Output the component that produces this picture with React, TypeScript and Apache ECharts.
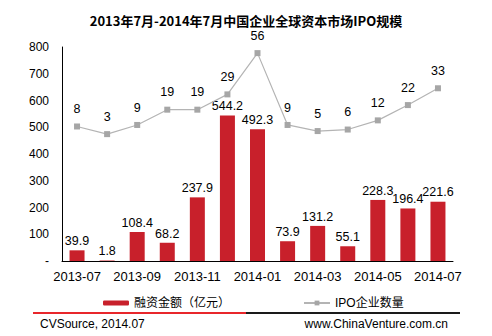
import React, { useEffect, useRef } from "react";
import * as echarts from "echarts";

const categories = ["2013-07","2013-08","2013-09","2013-10","2013-11","2013-12","2014-01","2014-02","2014-03","2014-04","2014-05","2014-06","2014-07"];
const amounts = [39.9, 1.8, 108.4, 68.2, 237.9, 544.2, 492.3, 73.9, 131.2, 55.1, 228.3, 196.4, 221.6];
const ipoCounts = [8, 3, 9, 19, 19, 29, 56, 9, 5, 6, 12, 22, 33];
const yTicks = [0, 100, 200, 300, 400, 500, 600, 700, 800];

const FONT = "'Liberation Sans', Arial, 'Noto Sans CJK SC', sans-serif";

export default function App() {
  const ref = useRef<HTMLDivElement>(null);
  useEffect(() => {
    const chart = echarts.init(ref.current!, null, { renderer: "svg" });
    chart.setOption({
      animation: false,
      backgroundColor: "#ffffff",
      textStyle: { fontFamily: FONT },
      title: {
        text: "2013年7月-2014年7月中国企业全球资本市场IPO规模",
        left: "center",
        top: 9,
        textStyle: { fontSize: 13, fontWeight: "bold", color: "#000", fontFamily: "'Noto Sans CJK SC', sans-serif" },
      },
      legend: [
        {
          data: ["融资金额（亿元）"],
          left: 98,
          top: 292,
          itemWidth: 26,
          itemHeight: 5,
          itemGap: 4,
          textStyle: { fontSize: 12, color: "#000", fontFamily: FONT },
        },
        {
          data: ["IPO企业数量"],
          left: 298,
          top: 292,
          itemWidth: 26,
          itemHeight: 6,
          textStyle: { fontSize: 12, color: "#000", fontFamily: FONT },
        },
      ],
      grid: { left: 62, right: 39, top: 47, bottom: 75, containLabel: false },
      xAxis: {
        type: "category",
        data: categories,
        axisLine: { lineStyle: { color: "#000", width: 1 } },
        axisTick: { show: false },
        axisLabel: { interval: 1, color: "#000", fontSize: 13, margin: 9, fontFamily: FONT },
      },
      yAxis: [
        {
          type: "value",
          min: 0,
          max: 800,
          interval: 100,
          axisLine: { show: true, lineStyle: { color: "#000" } },
          axisTick: { show: false },
          splitLine: { show: false },
          axisLabel: {
            color: "#000",
            fontSize: 12,
            margin: 13,
            fontFamily: FONT,
            formatter: (v: number) => (yTicks.indexOf(v) >= 0 ? (v === 0 ? "-" : String(v)) : ""),
          },
        },
        {
          type: "value",
          min: -80,
          max: 60,
          show: false,
          splitLine: { show: false },
        },
      ],
      series: [
        {
          name: "融资金额（亿元）",
          type: "bar",
          data: amounts,
          barWidth: 15,
          itemStyle: { color: "#c8202b" },
          label: { show: true, position: "top", distance: 3, color: "#000", fontSize: 12.5, fontFamily: FONT },
        },
        {
          name: "IPO企业数量",
          type: "line",
          yAxisIndex: 1,
          data: ipoCounts,
          symbol: "rect",
          symbolSize: 6,
          lineStyle: { color: "#b4b4b4", width: 1.2 },
          itemStyle: { color: "#a6a6a6" },
          label: { show: true, position: "top", distance: 8, color: "#000", fontSize: 12.5, fontFamily: FONT },
        },
      ],
      graphic: [
        { type: "line", shape: { x1: 33, y1: 313, x2: 246, y2: 313 }, style: { stroke: "#e8262b", lineWidth: 2 } },
        { type: "line", shape: { x1: 246, y1: 313, x2: 460, y2: 313 }, style: { stroke: "#1a1a1a", lineWidth: 2 } },
        { type: "text", left: 40, top: 318, style: { text: "CVSource, 2014.07", fontSize: 12, fill: "#000", fontFamily: FONT } },
        { type: "text", right: 44, top: 318, style: { text: "www.ChinaVenture.com.cn", fontSize: 12, fill: "#000", fontFamily: FONT } },
      ],
    });
    return () => chart.dispose();
  }, []);
  return <div ref={ref} style={{ width: 492, height: 336, position: "absolute", left: 0, top: 0 }} />;
}
